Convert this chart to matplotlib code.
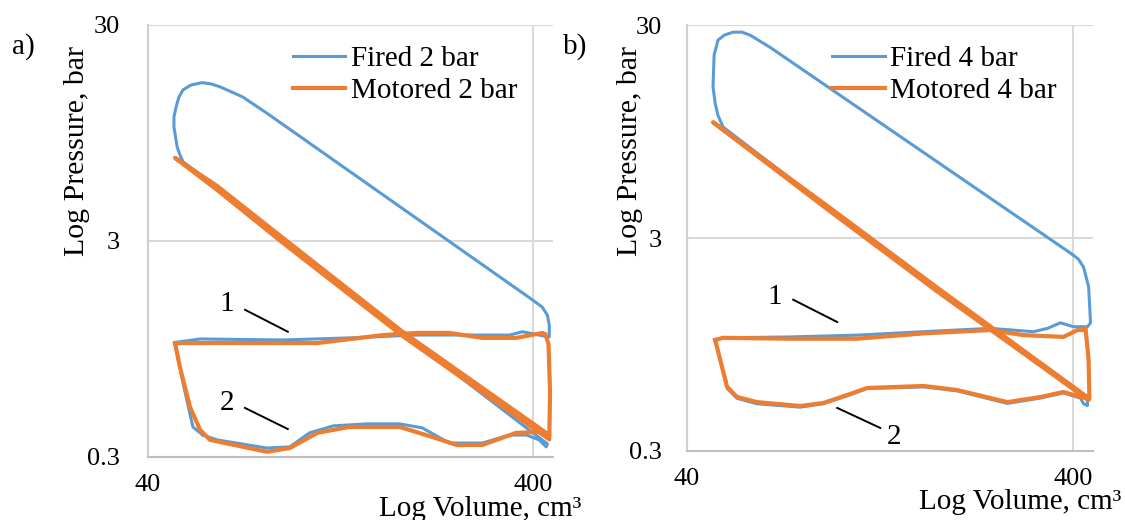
import matplotlib.pyplot as plt

plt.rcParams['font.family'] = ['Liberation Serif', 'DejaVu Serif']

# ---- panel a) 2 bar : volume (cm3), pressure (bar) ----
va_fired = [55.5, 60.4, 81.4, 93.3, 105, 121, 148, 180, 206, 242, 295, 347, 384, 414, 432,
            435, 183, 89.5, 60.4, 49.3,
            48.4, 47.6, 46.7, 46.7, 47.3, 48.1, 49.3, 51.7, 55.2, 58.2, 61.5, 70.5, 81.4,
            398, 422, 435, 440, 440,
            435, 375, 347, 295, 199, 133, 89.5, 54.6, 47.6, 47.0,
            49.3, 52.3, 55.5]
pa_fired = [0.379, 0.360, 0.330, 0.334, 0.388, 0.418, 0.427, 0.427, 0.409, 0.348, 0.348, 0.379, 0.379, 0.360, 0.334,
            0.345, 1.125, 3.03, 5.3, 6.97,
            7.5, 8.17, 10.1, 11.25, 12.5, 13.9, 15.0, 15.8, 16.2, 16.0, 15.5, 13.9, 11.7,
            1.60, 1.48, 1.36, 1.22, 1.08,
            1.08, 1.14, 1.10, 1.10, 1.10, 1.067, 1.044, 1.055, 1.02, 1.01,
            0.66, 0.413, 0.379]

va_motored = [47.0, 48.4, 51.4, 54.6, 57.9, 81.4, 93.3, 110, 133, 180, 219, 253, 295, 361, 422, 440,
              183, 89.5, 60.4, 47.0,
              60.4, 89.5, 183, 440,
              442, 438, 430,
              422, 361, 295, 242, 199, 163, 110, 73.5, 49.3, 47.0]
pa_motored = [1.01, 0.78, 0.511, 0.400, 0.360, 0.317, 0.330, 0.388, 0.413, 0.413, 0.371, 0.341, 0.341, 0.388, 0.392, 0.379,
              1.14, 3.10, 5.39, 7.27,
              5.17, 2.94, 1.09, 0.362,
              0.60, 1.0, 1.11,
              1.125, 1.067, 1.067, 1.125, 1.125, 1.10, 1.01, 1.01, 1.01, 1.01]

# ---- panel b) 4 bar ----
vb_fired = [47.3, 50.8, 53.9, 60.7, 78.5, 90.0, 104, 117, 164, 200, 244, 270, 329, 377, 417, 425, 435,
            435, 178, 93.9, 49.6,
            48.1, 47.3, 46.7, 47.0, 48.1, 49.9, 52.6, 55.5, 58.3, 61.8, 65.6,
            393, 412, 425, 438, 443, 435,
            400, 370, 343, 315, 244, 164, 110, 74.0, 49.6, 47.3]
pb_fired = [0.996, 0.59, 0.53, 0.50, 0.482, 0.50, 0.545, 0.59, 0.60, 0.575, 0.525, 0.502, 0.532, 0.562, 0.532, 0.50, 0.49,
            0.52, 1.73, 4.1, 9.96,
            11.3, 12.9, 15.4, 21.7, 25.5, 26.9, 27.8, 27.8, 26.9, 25.2, 23.6,
            2.55, 2.39, 2.19, 1.77, 1.20, 1.15,
            1.15, 1.20, 1.13, 1.09, 1.13, 1.09, 1.05, 1.03, 1.02, 0.996]

vb_motored = [47.3, 50.8, 53.9, 60.7, 78.5, 90.0, 104, 117, 164, 200, 244, 270, 329, 377, 417, 438,
              178, 93.9, 46.7,
              93.9, 178, 438,
              440, 438, 430,
              425, 410, 377, 297, 244, 164, 110, 74.0, 49.6, 47.3]
pb_motored = [0.996, 0.600, 0.538, 0.509, 0.488, 0.504, 0.550, 0.593, 0.606, 0.580, 0.532, 0.509, 0.538, 0.568, 0.538, 0.532,
              1.75, 4.15, 10.5,
              4.0, 1.68, 0.52,
              0.53, 0.8, 1.13,
              1.11, 1.11, 1.03, 1.05, 1.11, 1.07, 1.01, 1.01, 1.02, 0.996]

# annotation "1"/"2": text position, leader start, leader end (volume, pressure)
notes_a = [('1', (64.1, 1.53), (71.4, 1.44), (92.2, 1.14)),
           ('2', (64.1, 0.533), (71.4, 0.506), (92.2, 0.404))]
notes_b = [('1', (67.6, 1.58), (75.3, 1.54), (97.9, 1.21)),
           ('2', (137, 0.349), (97.9, 0.478), (126.5, 0.385))]

xticks = [40, 400]
yticks = [0.3, 3, 30]

blue = '#5B9BD5'
orange = '#ED7D31'

fig = plt.figure(figsize=(11.25, 5.2), dpi=100)
ax1 = fig.add_axes([0.1316, 0.1212, 0.36, 0.831])
ax2 = fig.add_axes([0.6107, 0.1327, 0.361, 0.819])

panels = [(ax1, va_fired, pa_fired, va_motored, pa_motored, '2 bar', notes_a, 'a)', 0.0107),
          (ax2, vb_fired, pb_fired, vb_motored, pb_motored, '4 bar', notes_b, 'b)', 0.5)]

for ax, vf, pf, vm, pm, lab, notes, tag, xtag in panels:
    ax.plot(vf, pf, color=blue, lw=2.2, label='Fired ' + lab, solid_joinstyle='round')
    ax.plot(vm, pm, color=orange, lw=3.0, label='Motored ' + lab, solid_joinstyle='round')
    ax.set_xscale('log')
    ax.set_yscale('log')
    ax.set_xlim(40, 450)
    ax.set_ylim(0.3, 30)
    ax.set_xticks(xticks)
    ax.set_xticklabels([str(t) for t in xticks])
    ax.set_yticks(yticks)
    ax.set_yticklabels(['0.3', '3', '30'])
    ax.minorticks_off()
    ax.tick_params(length=0, labelsize=19)
    ax.tick_params(axis='y', pad=20)
    ax.tick_params(axis='x', pad=12)
    ax.grid(True, color='#D9D9D9', lw=1.5)
    ax.set_axisbelow(True)
    for s in ['top', 'right']:
        ax.spines[s].set_visible(False)
    ax.spines['left'].set_color('#D0D0D0')
    ax.spines['left'].set_linewidth(1.5)
    ax.spines['bottom'].set_color('#BFBFBF')
    ax.spines['bottom'].set_linewidth(1.5)
    ax.set_xlabel('Log Volume, cm³', fontsize=21, loc='right')
    ax.xaxis.set_label_coords(1.07, -0.09)
    ax.set_ylabel('Log Pressure, bar', fontsize=21.5)
    for t, pt, p0, p1 in notes:
        ax.text(pt[0], pt[1], t, fontsize=21, ha='center', va='center')
        ax.plot([p0[0], p1[0]], [p0[1], p1[1]], color='black', lw=1.4)
    ax.legend(loc='upper left', bbox_to_anchor=(0.357, 0.952), frameon=False, fontsize=21,
              handlelength=1.8, handletextpad=0.2, labelspacing=0.2, borderpad=0, borderaxespad=0)
    fig.text(xtag, 0.91, tag, fontsize=21, ha='left', va='center')

ax2.tick_params(axis='y', pad=18)
ax1.yaxis.set_label_coords(-0.143, 0.708)
ax2.yaxis.set_label_coords(-0.108, 0.704)

fig.savefig('out.png', dpi=100)
